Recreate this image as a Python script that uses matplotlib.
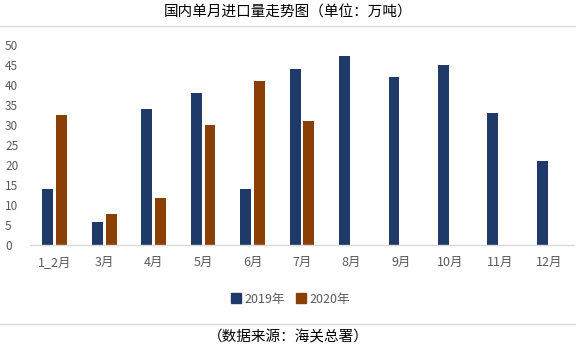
import numpy as np
import matplotlib
matplotlib.use("Agg")
import matplotlib.pyplot as plt
from matplotlib.lines import Line2D

plt.rcParams['font.family'] = ['Noto Sans CJK SC', 'DejaVu Sans']

months = ['1_2月', '3月', '4月', '5月', '6月', '7月', '8月', '9月', '10月', '11月', '12月']
y2019 = [14, 5.8, 34, 38, 14, 44, 47.2, 42, 45, 33, 21]
y2020 = [32.5, 7.8, 11.8, 30, 41, 31]
series_names = ['2019年', '2020年']
c2019 = '#1F3A68'
c2020 = '#8B3F05'

W, H = 576, 347
fig = plt.figure(figsize=(W / 100, H / 100), dpi=100)
ax = fig.add_axes([30 / W, 1 - 245 / H, 544 / W, 200 / H])

x = np.arange(len(months))
w = 0.22
ax.bar(x[:len(y2019)] - 0.14, y2019, width=w, color=c2019)
ax.bar(x[:len(y2020)] + 0.14, y2020, width=w, color=c2020)

ax.set_xlim(-0.5, len(months) - 0.5)
ax.set_ylim(0, 50)
ax.set_yticks(np.arange(0, 51, 5))
ax.set_xticks(x)
ax.set_xticklabels(months)
# 左对齐的y轴刻度，距离图左边约5px
ax.tick_params(axis='y', length=0, pad=18, labelsize=8.5, labelcolor='#595959')
ax.tick_params(axis='x', length=0, pad=8, labelsize=9, labelcolor='#595959')
for s in ['top', 'right', 'left']:
    ax.spines[s].set_visible(False)
ax.spines['bottom'].set_color('#D9D9D9')
ax.spines['bottom'].set_linewidth(1)
for lbl in ax.get_yticklabels():
    lbl.set_horizontalalignment('left')

# 标题和分隔线
fig.text(0.5, 1 - 13 / H, '国内单月进口量走势图（单位：万吨）', ha='center', va='center',
         fontsize=10.5, color='#000000')
fig.add_artist(Line2D([0, 1], [1 - 26 / H, 1 - 26 / H], color='#D9D9D9', lw=1))
fig.add_artist(Line2D([0, 1], [1 - 324 / H, 1 - 324 / H], color='#D9D9D9', lw=1))
fig.text(0.5, 1 - 337 / H, '（数据来源：海关总署）', ha='center', va='center',
         fontsize=10.5, color='#000000')

handles = [Line2D([], [], marker='s', ls='', color=c2019, markersize=7),
           Line2D([], [], marker='s', ls='', color=c2020, markersize=7)]
fig.legend(handles, series_names, loc='center', bbox_to_anchor=(290 / W, 1 - 299 / H),
           ncol=2, frameon=False, fontsize=9, labelcolor='#595959',
           handletextpad=0.2, columnspacing=0.8, handlelength=1)

fig.savefig('out.png', dpi=100)
